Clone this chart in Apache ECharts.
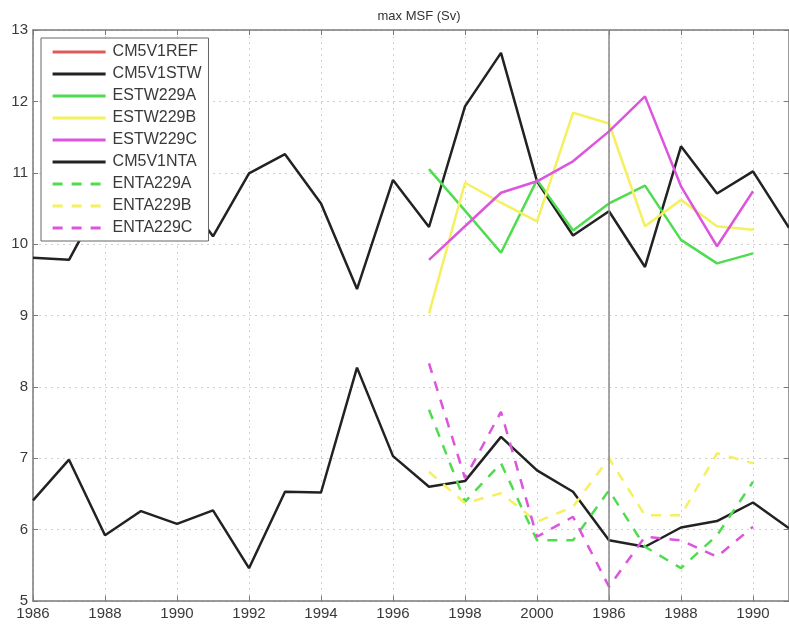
<!DOCTYPE html>
<html>
<head>
<meta charset="utf-8">
<script src="https://cdn.jsdelivr.net/npm/echarts@6/dist/echarts.min.js"></script>
<style>
  html, body { margin: 0; padding: 0; background: #ffffff; }
  #chart { width: 789px; height: 625px; }
</style>
</head>
<body>
<div id="chart"></div>
<script>
// Years of the control runs and of the perturbation experiments
const yearsCtrl = [1986, 1987, 1988, 1989, 1990, 1991, 1992, 1993, 1994, 1995, 1996,
                   1997, 1998, 1999, 2000, 2001, 2002, 2003, 2004, 2005, 2006, 2007];
const yearsExp  = [1997, 1998, 1999, 2000, 2001, 2002, 2003, 2004, 2005, 2006];

// Maximum MSF (Sv)
const cm5v1ref = [];
const cm5v1stw = [9.81, 9.78, 10.71, 10.9, 10.79, 10.11, 10.99, 11.26, 10.57, 9.37, 10.90,
                  10.24, 11.93, 12.68, 10.88, 10.12, 10.46, 9.68, 11.37, 10.71, 11.02, 10.23];
const estw229a = [11.05, 10.47, 9.88, 10.90, 10.19, 10.57, 10.82, 10.06, 9.73, 9.87];
const estw229b = [9.03, 10.86, 10.58, 10.32, 11.84, 11.69, 10.25, 10.62, 10.25, 10.20];
const estw229c = [9.78, 10.25, 10.72, 10.88, 11.16, 11.58, 12.07, 10.81, 9.97, 10.74];
const cm5v1nta = [6.41, 6.98, 5.92, 6.26, 6.08, 6.27, 5.46, 6.53, 6.52, 8.27, 7.03,
                  6.60, 6.68, 7.30, 6.83, 6.53, 5.85, 5.76, 6.03, 6.12, 6.38, 6.02];
const enta229a = [7.68, 6.39, 6.93, 5.85, 5.85, 6.55, 5.76, 5.46, 5.92, 6.67];
const enta229b = [6.81, 6.37, 6.51, 6.11, 6.32, 7.00, 6.20, 6.20, 7.07, 6.93];
const enta229c = [8.33, 6.72, 7.65, 5.90, 6.18, 5.20, 5.90, 5.85, 5.62, 6.04];

// Restart marker (year 2002, labelled as 1986 on the axis)
const restartYear = 2002;
const labelShift = 16;

const pair = (xs, ys) => ys.map((v, i) => [xs[i], v]);

const FONT = 'Liberation Sans, Arial, sans-serif';
const AXIS_GREY = '#7a7a7a';

function lineSeries(name, xs, ys, color, dashed, extra) {
  return Object.assign({
    name: name,
    type: 'line',
    data: pair(xs, ys),
    symbol: 'none',
    lineStyle: { color: color, width: 2.5, type: dashed ? [10, 9] : 'solid' },
    itemStyle: { color: color },
    emphasis: { disabled: true },
    animation: false
  }, extra || {});
}

const chart = echarts.init(document.getElementById('chart'), null, { renderer: 'canvas' });

chart.setOption({
  backgroundColor: '#ffffff',
  animation: false,
  title: {
    text: 'max MSF (Sv)',
    left: 414, top: 5, textAlign: 'center',
    textStyle: { fontFamily: FONT, fontSize: 13, fontWeight: 'normal', color: '#333' }
  },
  grid: { left: 33, top: 30, width: 760, height: 571, containLabel: false },
  legend: {
    orient: 'vertical',
    left: 41, top: 38,
    padding: [6, 7, 5, 10],
    itemWidth: 53, itemHeight: 14, itemGap: 6,
    backgroundColor: '#ffffff',
    borderColor: '#666666', borderWidth: 1,
    itemStyle: { opacity: 0 },
    lineStyle: { width: 3.2 },
    textStyle: { fontFamily: FONT, fontSize: 16, color: '#3a3a3a', padding: [0, 0, 0, 2] },
    selectedMode: false,
    data: ['CM5V1REF', 'CM5V1STW', 'ESTW229A', 'ESTW229B', 'ESTW229C',
           'CM5V1NTA', 'ENTA229A', 'ENTA229B', 'ENTA229C']
  },
  xAxis: [
    {
      type: 'value', min: 1986, max: 2007, interval: 2, position: 'bottom',
      axisLine: { show: true, onZero: false, lineStyle: { color: AXIS_GREY, width: 1.5 } },
      axisTick: { show: true, inside: true, length: 5, lineStyle: { color: AXIS_GREY } },
      splitLine: { show: true, lineStyle: { color: '#d0d0d0', type: [2, 4], width: 1 } },
      axisLabel: {
        fontFamily: FONT, fontSize: 15, color: '#3a3a3a', margin: 5,
        showMaxLabel: false,
        formatter: v => (v % 2 !== 0 ? '' : String(v > 2000 ? v - labelShift : v))
      }
    },
    {
      type: 'value', min: 1986, max: 2007, interval: 2, position: 'top',
      axisLine: { show: true, onZero: false, lineStyle: { color: AXIS_GREY, width: 1.5 } },
      axisTick: { show: true, inside: true, length: 5, lineStyle: { color: AXIS_GREY } },
      splitLine: { show: false },
      axisLabel: { show: false }
    }
  ],
  yAxis: [
    {
      type: 'value', min: 5, max: 13, interval: 1, position: 'left',
      axisLine: { show: true, onZero: false, lineStyle: { color: AXIS_GREY, width: 1.5 } },
      axisTick: { show: true, inside: true, length: 5, lineStyle: { color: AXIS_GREY } },
      splitLine: { show: true, lineStyle: { color: '#d0d0d0', type: [2, 4], width: 1 } },
      axisLabel: { fontFamily: FONT, fontSize: 15, color: '#3a3a3a', margin: 5 }
    },
    {
      type: 'value', min: 5, max: 13, interval: 1, position: 'right',
      axisLine: { show: true, onZero: false, lineStyle: { color: AXIS_GREY, width: 1.5 } },
      axisTick: { show: true, inside: true, length: 5, lineStyle: { color: AXIS_GREY } },
      splitLine: { show: false },
      axisLabel: { show: false }
    }
  ],
  series: [
    lineSeries('CM5V1REF', yearsCtrl, cm5v1ref, '#e05a5a', false),
    lineSeries('CM5V1STW', yearsCtrl, cm5v1stw, '#222222', false),
    lineSeries('ESTW229A', yearsExp, estw229a, '#4fdc4f', false),
    lineSeries('ESTW229B', yearsExp, estw229b, '#f4f060', false),
    lineSeries('ESTW229C', yearsExp, estw229c, '#dc55dc', false),
    lineSeries('CM5V1NTA', yearsCtrl, cm5v1nta, '#222222', false, {
      markLine: {
        silent: true, symbol: 'none', animation: false,
        label: { show: false },
        lineStyle: { color: '#8a8a8a', width: 1.5, type: 'solid' },
        data: [{ xAxis: restartYear }]
      }
    }),
    lineSeries('ENTA229A', yearsExp, enta229a, '#4fdc4f', true),
    lineSeries('ENTA229B', yearsExp, enta229b, '#f4f060', true),
    lineSeries('ENTA229C', yearsExp, enta229c, '#dc55dc', true)
  ]
});
</script>
</body>
</html>
